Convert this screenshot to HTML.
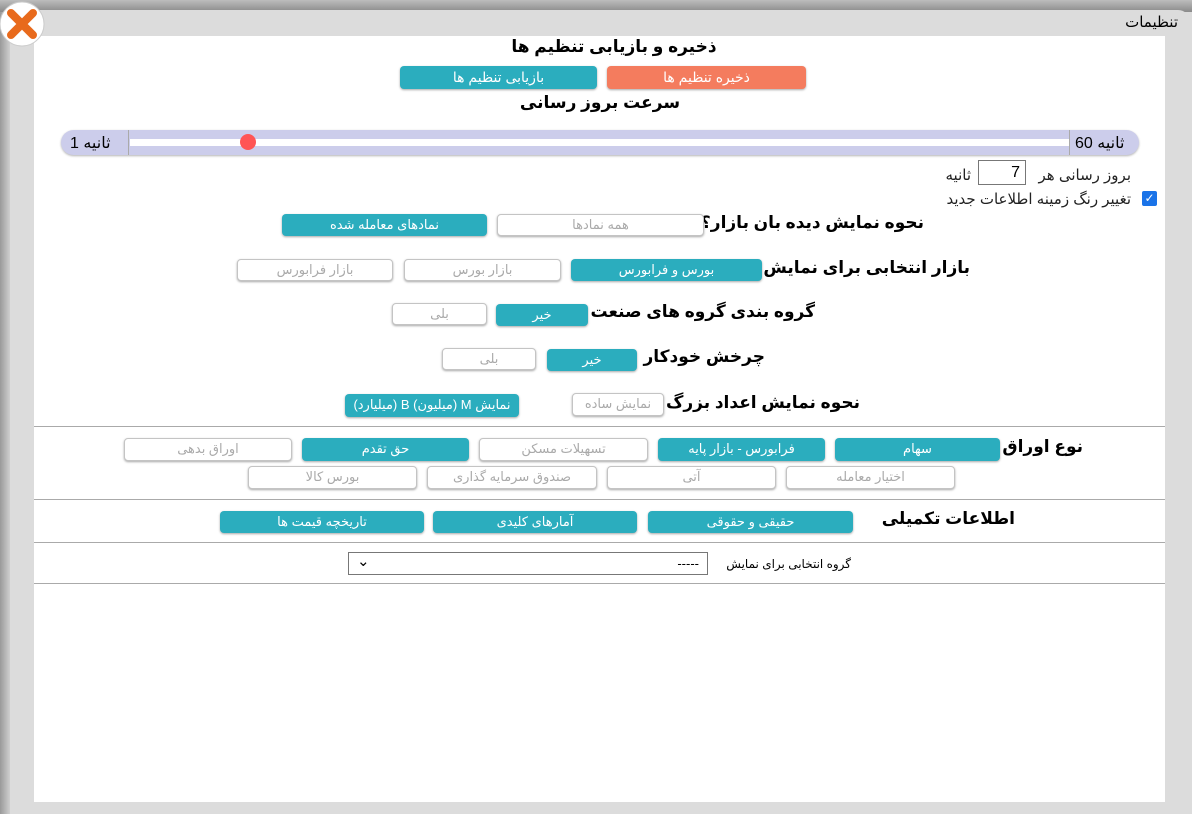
<!DOCTYPE html>
<html><head><meta charset="utf-8"><style>
*{box-sizing:border-box;margin:0;padding:0}
body{width:1192px;height:814px;overflow:hidden;background:#dcdcdc;position:relative;font-family:"Liberation Sans","DejaVu Sans",sans-serif}
.a{position:absolute}
.top{left:0;top:0;width:1192px;height:12px;background:linear-gradient(#bdbdbd,#8a8a8a)}
.dlg{left:10px;top:10px;width:1180px;height:804px;background:#dcdcdc;border-radius:0 12px 0 0}
.leftedge{left:0;top:12px;width:10px;height:802px;background:linear-gradient(90deg,#9a9a9a,#cfcfcf)}
.content{left:34px;top:36px;width:1131px;height:766px;background:#fff}
.b{position:absolute;border-radius:4px;font-size:13px;text-align:center;line-height:22px;direction:rtl;box-shadow:0 1px 2px rgba(0,0,0,.35);white-space:nowrap}
.t{background:#2badbe;color:#fff}
.w{background:#fff;color:#aaa;border:1px solid #c4c4c4;line-height:20px}
.lbl{position:absolute;font-weight:bold;font-size:17px;direction:rtl;white-space:nowrap;color:#000}
.hr{position:absolute;left:34px;width:1131px;height:1px;background:#aaa}
.txt{position:absolute;font-size:14px;direction:rtl;white-space:nowrap;color:#222}
</style></head><body>
<div class="a top"></div>
<div class="a dlg"></div>
<div class="a leftedge"></div>
<div class="txt" style="right:14px;top:13px;font-size:15px;color:#000">تنظیمات</div>
<div class="a content"></div>
<svg class="a" style="left:0;top:0" width="48" height="50"><circle cx="22" cy="24" r="22" fill="#fff" stroke="#ccc"/><path d="M11 13 L33 35 M33 13 L11 35" stroke="#e86a1c" stroke-width="8" stroke-linecap="round"/></svg>

<div class="lbl" style="left:0;width:1228px;text-align:center;top:37px">ذخیره و بازیابی تنظیم ها</div>
<div class="b t" style="left:400px;top:66px;width:197px;height:23px;font-size:14px">بازیابی تنظیم ها</div>
<div class="b" style="left:607px;top:66px;width:199px;height:23px;font-size:14px;background:#f47c5e;color:#fff">ذخیره تنظیم ها</div>
<div class="lbl" style="left:0;width:1200px;text-align:center;top:93px">سرعت بروز رسانی</div>

<div class="a" style="left:61px;top:130px;width:1078px;height:25px;background:#cccdeb;border-radius:13px;box-shadow:0 1px 2px rgba(0,0,0,.3)"></div>
<div class="a" style="left:128px;top:130px;width:1px;height:25px;background:#aaa"></div>
<div class="a" style="left:1069px;top:130px;width:1px;height:25px;background:#aaa"></div>
<div class="a" style="left:130px;top:139px;width:939px;height:7px;background:#fff"></div>
<div class="a" style="left:240px;top:134px;width:16px;height:16px;border-radius:50%;background:#f55"></div>
<div class="txt" style="left:70px;top:133px;font-size:16px;color:#000">ثانیه 1</div>
<div class="txt" style="left:1075px;top:133px;font-size:16px;color:#000">ثانیه 60</div>

<div class="txt" style="right:61px;top:166px;font-size:15px">بروز رسانی هر</div>
<div class="a" style="left:978px;top:160px;width:48px;height:25px;border:1px solid #777;font-size:16px;text-align:right;padding-right:5px;line-height:23px">7</div>
<div class="txt" style="right:221px;top:166px;font-size:15px">ثانیه</div>
<div class="a" style="left:1142px;top:191px;width:15px;height:15px;background:#1a73e8;border-radius:2px;color:#fff;font-size:12px;line-height:15px;text-align:center">✓</div>
<div class="txt" style="right:61px;top:190px;font-size:15px">تغییر رنگ زمینه اطلاعات جدید</div>

<div class="lbl" style="right:268px;top:213px">نحوه نمایش دیده بان بازار؟</div>
<div class="b w" style="left:497px;top:214px;width:207px;height:22px">همه نمادها</div>
<div class="b t" style="left:282px;top:214px;width:205px;height:22px">نمادهای معامله شده</div>

<div class="lbl" style="right:222px;top:258px">بازار انتخابی برای نمایش</div>
<div class="b t" style="left:571px;top:259px;width:191px;height:22px">بورس و فرابورس</div>
<div class="b w" style="left:404px;top:259px;width:157px;height:22px">بازار بورس</div>
<div class="b w" style="left:237px;top:259px;width:156px;height:22px">بازار فرابورس</div>

<div class="lbl" style="right:377px;top:302px">گروه بندی گروه های صنعت</div>
<div class="b t" style="left:496px;top:304px;width:92px;height:22px">خیر</div>
<div class="b w" style="left:392px;top:303px;width:95px;height:22px">بلی</div>

<div class="lbl" style="right:427px;top:347px">چرخش خودکار</div>
<div class="b t" style="left:547px;top:349px;width:90px;height:22px">خیر</div>
<div class="b w" style="left:442px;top:348px;width:94px;height:22px">بلی</div>

<div class="lbl" style="right:332px;top:393px">نحوه نمایش اعداد بزرگ</div>
<div class="b w" style="left:572px;top:393px;width:92px;height:23px">نمایش ساده</div>
<div class="b t" style="left:345px;top:394px;width:174px;height:23px">نمایش M (میلیون) B (میلیارد)</div>

<div class="hr" style="top:426px"></div>
<div class="lbl" style="right:109px;top:437px">نوع اوراق</div>
<div class="b t" style="left:835px;top:438px;width:165px;height:23px">سهام</div>
<div class="b t" style="left:658px;top:438px;width:167px;height:23px">فرابورس - بازار پایه</div>
<div class="b w" style="left:479px;top:438px;width:169px;height:23px">تسهیلات مسکن</div>
<div class="b t" style="left:302px;top:438px;width:167px;height:23px">حق تقدم</div>
<div class="b w" style="left:124px;top:438px;width:168px;height:23px">اوراق بدهی</div>
<div class="b w" style="left:786px;top:466px;width:169px;height:23px">اختیار معامله</div>
<div class="b w" style="left:607px;top:466px;width:169px;height:23px">آتی</div>
<div class="b w" style="left:427px;top:466px;width:170px;height:23px">صندوق سرمایه گذاری</div>
<div class="b w" style="left:248px;top:466px;width:169px;height:23px">بورس کالا</div>

<div class="hr" style="top:499px"></div>
<div class="lbl" style="right:177px;top:509px">اطلاعات تکمیلی</div>
<div class="b t" style="left:648px;top:511px;width:205px;height:22px">حقیقی و حقوقی</div>
<div class="b t" style="left:433px;top:511px;width:204px;height:22px">آمارهای کلیدی</div>
<div class="b t" style="left:220px;top:511px;width:204px;height:22px">تاریخچه قیمت ها</div>

<div class="hr" style="top:542px"></div>
<div class="a" style="left:348px;top:552px;width:360px;height:23px;border:1px solid #777;font-size:13px;line-height:21px;padding:0 8px"><span style="float:left;font-size:15px;line-height:17px">⌄</span><span style="float:right">-----</span></div>
<div class="txt" style="right:341px;top:557px;font-size:12px;color:#000">گروه انتخابی برای نمایش</div>
<div class="hr" style="top:583px"></div>
</body></html>
